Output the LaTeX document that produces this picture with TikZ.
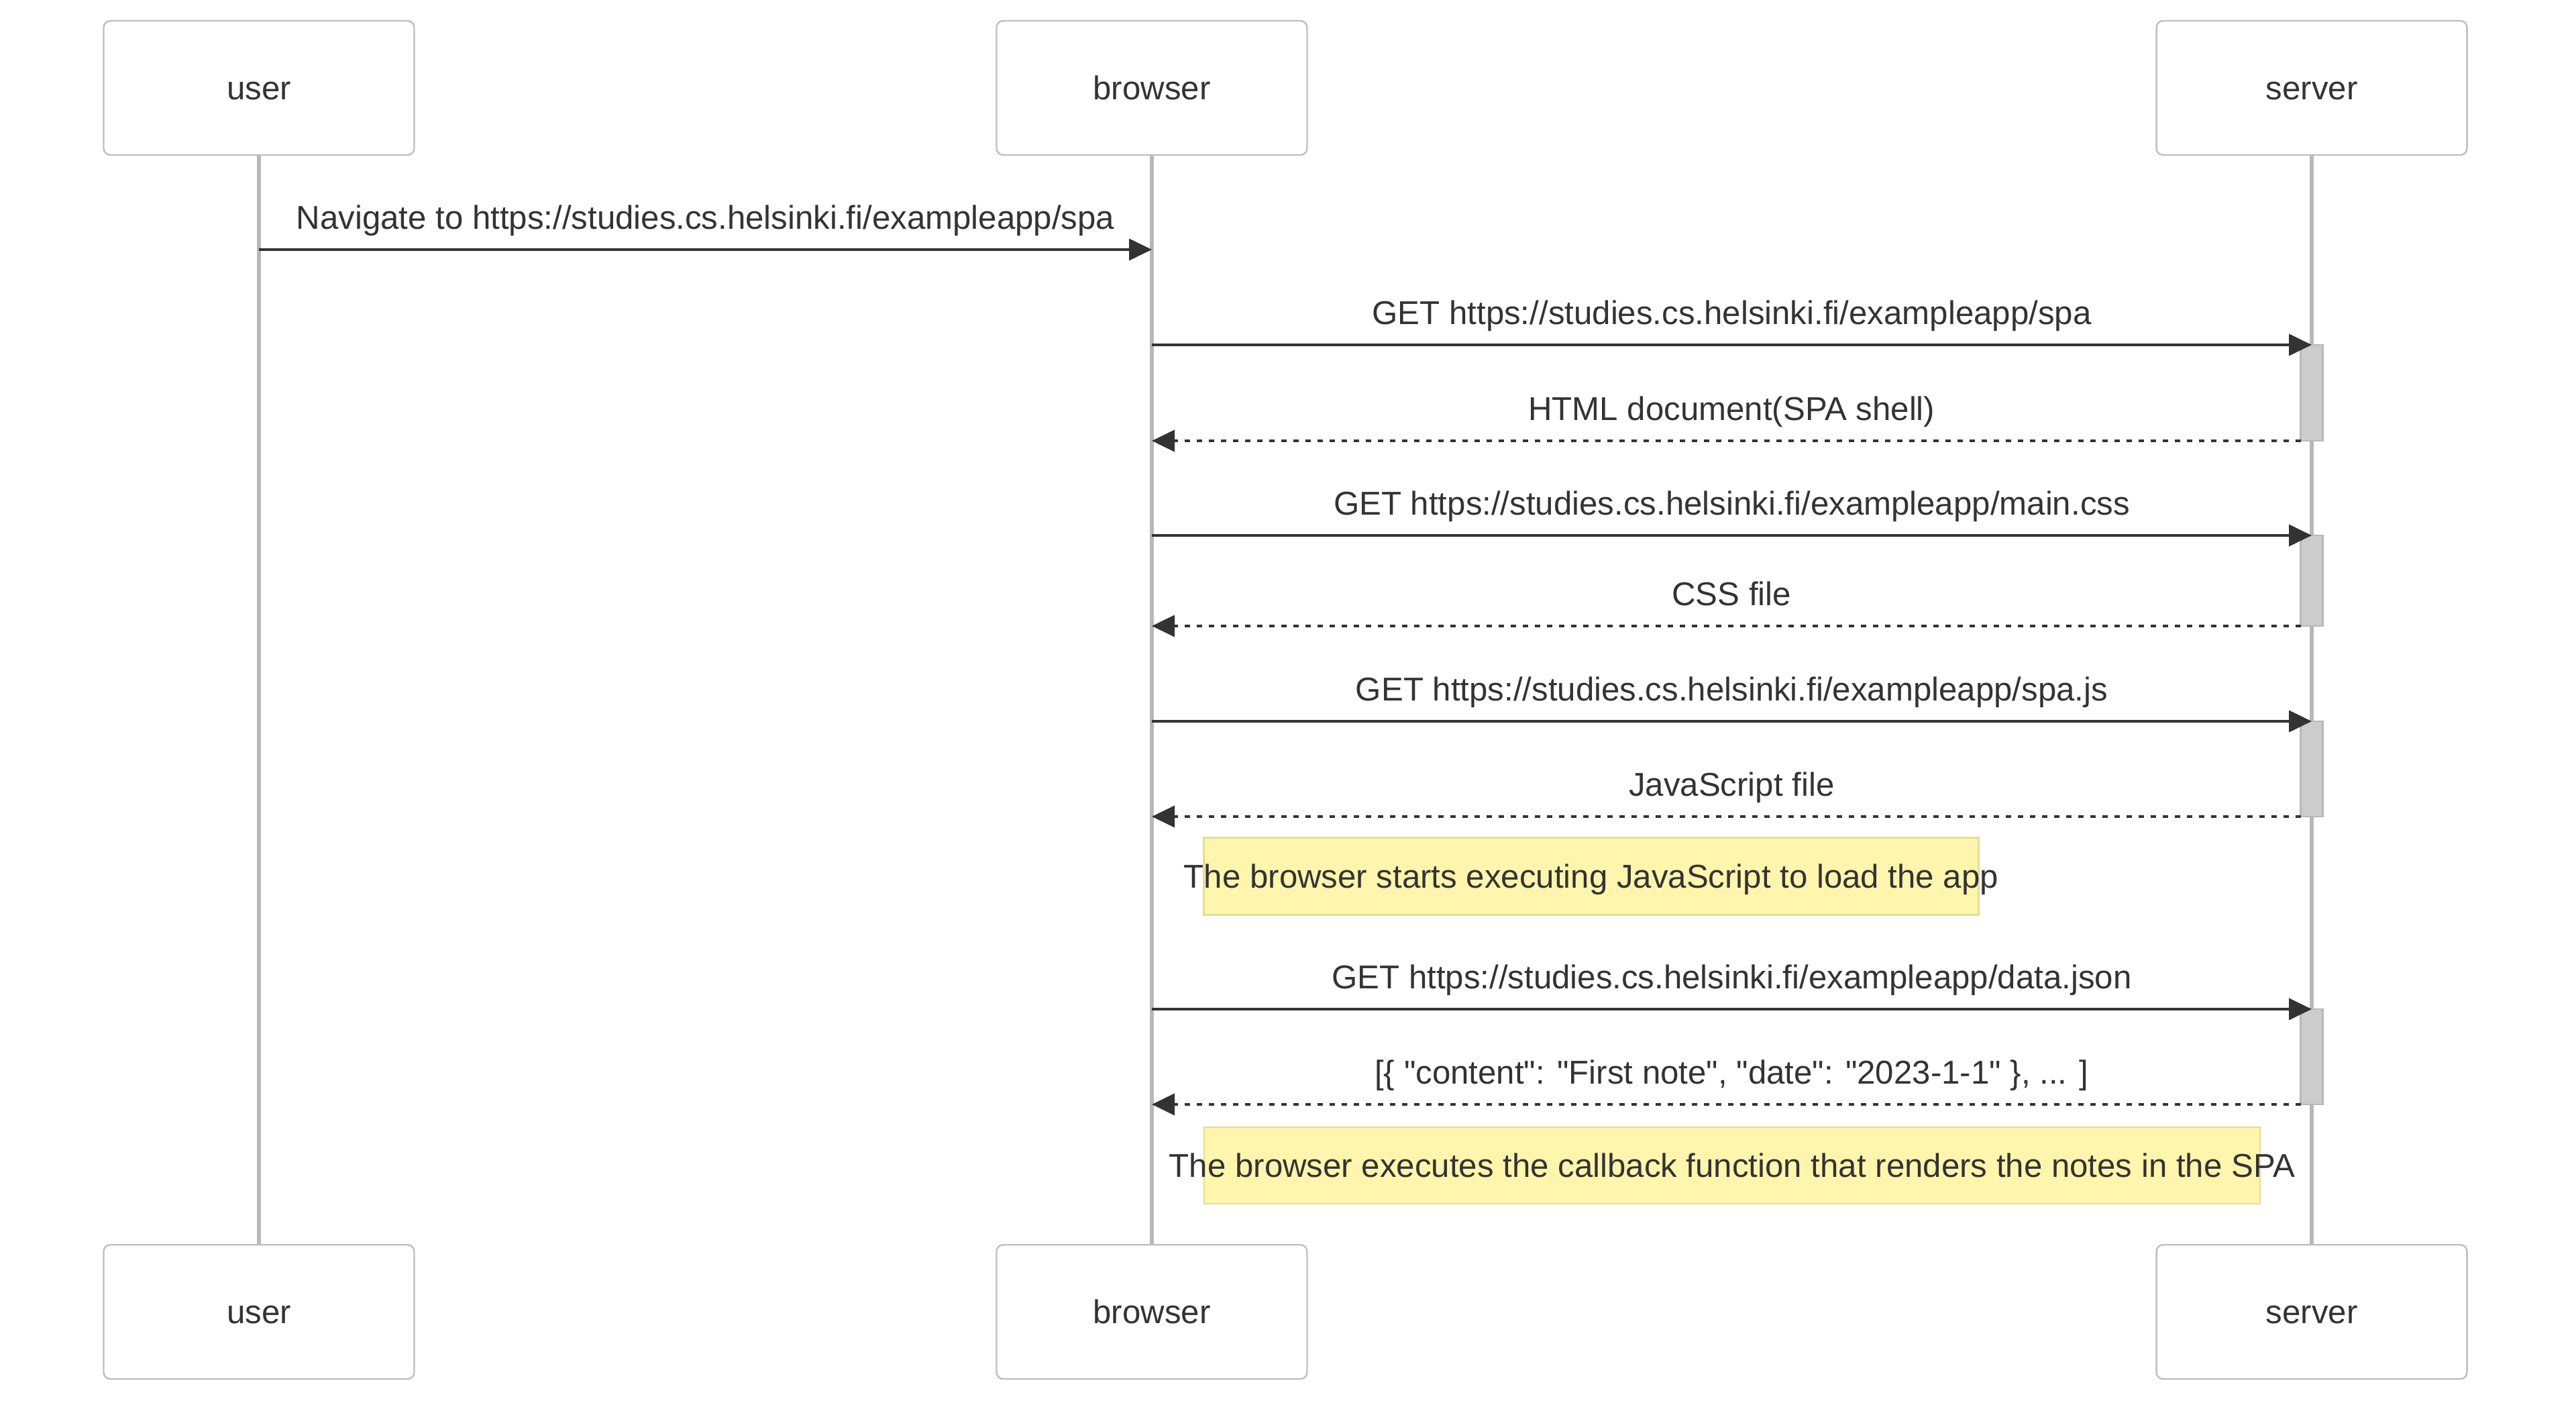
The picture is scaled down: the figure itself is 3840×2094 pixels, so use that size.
\documentclass[tikz,border=0pt]{standalone}
\usepackage{fontspec}
\setmainfont{Liberation Sans}[Ligatures=TeXOff]
\usepackage{xcolor}
\usetikzlibrary{arrows.meta,positioning}

\definecolor{ink}{RGB}{51,51,51}
\definecolor{boxgray}{RGB}{190,190,190}
\definecolor{linegray}{RGB}{184,184,184}
\definecolor{actgray}{RGB}{204,204,204}
\definecolor{notefill}{RGB}{255,245,173}
\definecolor{noteline}{RGB}{230,221,143}

\begin{document}
\begin{tikzpicture}[x=0.25pt,y=-0.25pt,
  every node/.style={font=\fontsize{12.3}{14}\selectfont,text=ink,text height=8.8pt,text depth=0pt},
  actor/.style={draw=boxgray,line width=0.6pt,rounded corners=2.5pt,fill=white,
    minimum width=115.75pt,minimum height=50pt},
  life/.style={draw=linegray,line width=1.4pt},
  msg/.style={draw=ink,line width=1pt,-{Triangle[length=8.5pt,width=8pt]}},
  reply/.style={msg,dash pattern=on 2pt off 2.5pt},
  lbl/.style={midway,yshift=12.1pt},
  backlbl/.style={lbl,xshift=2pt},
  act/.style={draw=linegray,line width=0.6pt,fill=actgray},
  note/.style={draw=noteline,line width=0.6pt,fill=notefill,inner sep=0pt}]
  % canvas
  \fill[white] (0,0) rectangle (3840,2094);
  \useasboundingbox (0,0) rectangle (3840,2094);
  % participants (top)
  \node[actor] (usertop) at (386,131) {user};
  \node[actor] (browsertop) at (1717,131) {browser};
  \node[actor] (servertop) at (3446,131) {server};
  % message rows
  \coordinate (r1) at (0,372);
  \coordinate (r2) at (0,514);
  \coordinate (r3) at (0,657);
  \coordinate (r4) at (0,798);
  \coordinate (r5) at (0,933);
  \coordinate (r6) at (0,1075);
  \coordinate (r7) at (0,1217);
  \coordinate (r8) at (0,1504);
  \coordinate (r9) at (0,1646);
  % participants (bottom)
  \coordinate (lifeend) at (0,1854);
  \node[actor,anchor=north] (userbot) at (usertop |- lifeend) {user};
  \node[actor,anchor=north] (browserbot) at (browsertop |- lifeend) {browser};
  \node[actor,anchor=north] (serverbot) at (servertop |- lifeend) {server};
  % lifelines
  \draw[life] (usertop.south) -- (userbot.north);
  \draw[life] (browsertop.south) -- (browserbot.north);
  \draw[life] (servertop.south) -- (serverbot.north);
  % activations on the server
  \draw[act] ([xshift=-4.1pt]servertop |- r2) rectangle ([xshift=4.1pt]servertop |- r3);
  \draw[act] ([xshift=-4.1pt]servertop |- r4) rectangle ([xshift=4.1pt]servertop |- r5);
  \draw[act] ([xshift=-4.1pt]servertop |- r6) rectangle ([xshift=4.1pt]servertop |- r7);
  \draw[act] ([xshift=-4.1pt]servertop |- r8) rectangle ([xshift=4.1pt]servertop |- r9);
  % messages
  \draw[msg] (usertop |- r1) -- node[lbl] (t1) {Navigate to https://studies.cs.helsinki.fi/exampleapp/spa} (browsertop |- r1);
  \draw[msg] (browsertop |- r2) -- node[lbl] (t2) {GET https://studies.cs.helsinki.fi/exampleapp/spa} (servertop |- r2);
  \draw[reply] ([xshift=-4.1pt]servertop |- r3) -- node[backlbl] (t3) {HTML document(SPA shell)} (browsertop |- r3);
  \draw[msg] (browsertop |- r4) -- node[lbl] (t4) {GET https://studies.cs.helsinki.fi/exampleapp/main.css} (servertop |- r4);
  \draw[reply] ([xshift=-4.1pt]servertop |- r5) -- node[backlbl] (t5) {CSS file} (browsertop |- r5);
  \draw[msg] (browsertop |- r6) -- node[lbl] (t6) {GET https://studies.cs.helsinki.fi/exampleapp/spa.js} (servertop |- r6);
  \draw[reply] ([xshift=-4.1pt]servertop |- r7) -- node[backlbl] (t7) {JavaScript file} (browsertop |- r7);
  \draw[msg] (browsertop |- r8) -- node[lbl] (t8) {GET https://studies.cs.helsinki.fi/exampleapp/data.json} (servertop |- r8);
  \draw[reply] ([xshift=-4.1pt]servertop |- r9) -- node[backlbl] (t9) {[\{ "content": "First note", "date": "2023-1-1" \}, ... ]} (browsertop |- r9);
  % notes
  \node[note,minimum width=288.75pt,minimum height=28.75pt] (note1) at (2372,1306)
    {\makebox[0pt]{The browser starts executing JavaScript to load the app}};
  \node[note,minimum width=393.5pt,minimum height=28.5pt] (note2) at (2582,1737)
    {\makebox[0pt]{The browser executes the callback function that renders the notes in the SPA}};
\end{tikzpicture}
\end{document}
